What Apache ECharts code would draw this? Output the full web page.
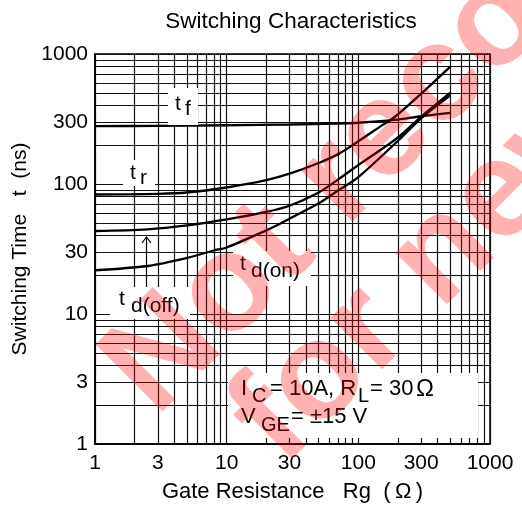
<!DOCTYPE html>
<html><head><meta charset="utf-8">
<script src="https://cdn.jsdelivr.net/npm/echarts@6/dist/echarts.min.js"></script>
<style>html,body{margin:0;padding:0;background:#fff}#c{width:522px;height:508px}</style>
</head><body><div id="c"></div>
<script>
// ---- data (Rg in ohm, time in ns) ----
const rg_tf   = [1, 3, 10, 30, 70, 100, 200, 300, 500];
const t_f     = [279, 280, 283, 287, 292, 296, 313, 332, 352];
const rg_tr   = [1, 3, 5, 10, 20, 30, 50, 72, 100, 150, 190, 300, 500];
const t_r     = [83, 84, 86, 94, 107, 120, 145, 172, 213, 281, 329, 495, 800];
const rg_doff = [1, 2.5, 5, 10, 20, 30, 50, 70, 100, 200, 300, 500];
const t_doff  = [43.5, 44.8, 48, 53.4, 61, 68, 86, 108, 140, 228, 330, 505];
const rg_don  = [1, 2.5, 5, 8, 10, 20, 25, 30, 50, 70, 100, 200, 300, 500];
const t_don   = [21.7, 23.4, 27, 30.8, 32.5, 44, 49, 54, 71, 89, 113, 215, 320, 480];
const tickLabels = [1, 3, 10, 30, 100, 300, 1000];
const gridMultipliers = [1, 2, 3, 4, 5, 6, 7, 8, 9];
const decades = [1, 10, 100];

const gridValues = [];
decades.forEach(d => gridMultipliers.forEach(m => gridValues.push(d * m)));
gridValues.push(1000);

const pair = (xs, ys) => xs.map((x, i) => [x, ys[i]]);
const FONT = "'Liberation Sans', Arial, sans-serif";
const fnt = s => s + "px " + FONT;

const chart = echarts.init(document.getElementById('c'), null, {renderer: 'canvas'});

function txt(x, y, s, size, z) {
  return {type: 'text', x: x, y: y, z: z || 20,
    style: {text: s, font: fnt(size), fill: '#000', align: 'left', textAlign: 'left',
            verticalAlign: 'middle', textVerticalAlign: 'middle'}};
}
function box(x, y, w, h) {
  return {type: 'rect', z: 15, shape: {x: x, y: y, width: w, height: h}, style: {fill: '#fff'}};
}
function mark(x, y, s) {
  return {type: 'text', x: x, y: y, z: 100, rotation: 45 * Math.PI / 180,
    style: {text: s, font: 'bold 138px ' + FONT, fill: 'rgba(255,0,0,0.3)',
            align: 'left', textAlign: 'left', verticalAlign: 'bottom', textVerticalAlign: 'bottom'}};
}

const lineSeries = (name, data) => ({
  name: name, type: 'line', data: data, showSymbol: false, smooth: 0.3, z: 10,
  lineStyle: {color: '#000', width: 2.3}, emphasis: {disabled: true}, silent: true
});

const axisCommon = {
  type: 'log', logBase: 10, min: 1, max: 1000,
  axisLine: {show: true, lineStyle: {color: '#000', width: 1.5}},
  axisTick: {show: false, customValues: gridValues},
  splitLine: {show: true, lineStyle: {color: '#111', width: 1.2}},
  minorTick: {show: false}, minorSplitLine: {show: false}
};

chart.setOption({
  animation: false,
  backgroundColor: '#fff',
  title: {text: 'Switching Characteristics', left: 286, top: 5, textAlign: 'center',
          textStyle: {fontFamily: FONT, fontSize: 22.5, fontWeight: 'normal', color: '#000'}},
  grid: {left: 95, right: 32, top: 54, bottom: 60, show: true, borderColor: '#000', borderWidth: 1.5},
  xAxis: Object.assign({}, axisCommon, {
    name: 'Gate Resistance   Rg  (\u2009Ω\u2009)', nameLocation: 'middle', nameGap: 37,
    nameTextStyle: {fontFamily: FONT, fontSize: 22, color: '#000'},
    axisLabel: {customValues: tickLabels, fontFamily: FONT, fontSize: 21, color: '#000', margin: 9,
                formatter: v => String(Math.round(v))}
  }),
  yAxis: Object.assign({}, axisCommon, {
    name: 'Switching Time   t  (ns)', nameLocation: 'middle', nameGap: 64,
    nameTextStyle: {fontFamily: FONT, fontSize: 21, color: '#000'},
    axisLabel: {customValues: tickLabels, fontFamily: FONT, fontSize: 21, color: '#000', margin: 7,
                padding: [0, 0, 12, 0], formatter: v => String(Math.round(v))}
  }),
  series: [
    lineSeries('tf', pair(rg_tf, t_f)),
    lineSeries('tr', pair(rg_tr, t_r)),
    lineSeries('td(off)', pair(rg_doff, t_doff)),
    lineSeries('td(on)', pair(rg_don, t_don))
  ],
  graphic: [
    box(168, 88, 30, 37), txt(175, 104, 't', 21), txt(185, 109, 'f', 21),
    box(123, 160, 32, 26), txt(130, 173, 't', 21), txt(140, 178, 'r', 21),
    box(233, 251, 78, 35), txt(240, 264, 't', 21), txt(251, 271, 'd(on)', 21),
    box(110, 287, 80, 32), txt(119, 299, 't', 21), txt(131, 306, 'd(off)', 21),
    {type: 'polyline', z: 20, shape: {points: [[146.5, 287], [146.5, 238]]}, style: {stroke: '#000', lineWidth: 1.2, fill: null}},
    {type: 'polyline', z: 20, shape: {points: [[142, 243], [146.5, 237], [151, 243]]}, style: {stroke: '#000', lineWidth: 1.2, fill: null}},
    box(228, 373, 250, 65),
    txt(241, 389, 'I', 22), txt(252, 396, 'C', 20), txt(270, 389, '= 10A, R', 22),
    txt(358, 396, 'L', 20), txt(370, 389, '= 30', 22), txt(416, 389, 'Ω', 24),
    txt(241, 417, 'V', 22), txt(261, 425, 'GE', 20), txt(291, 417, '= ±15 V', 22),
    mark(178, 440, 'Not recommended'),
    mark(305, 490, 'for new design')
  ]
});
</script>
</body></html>
